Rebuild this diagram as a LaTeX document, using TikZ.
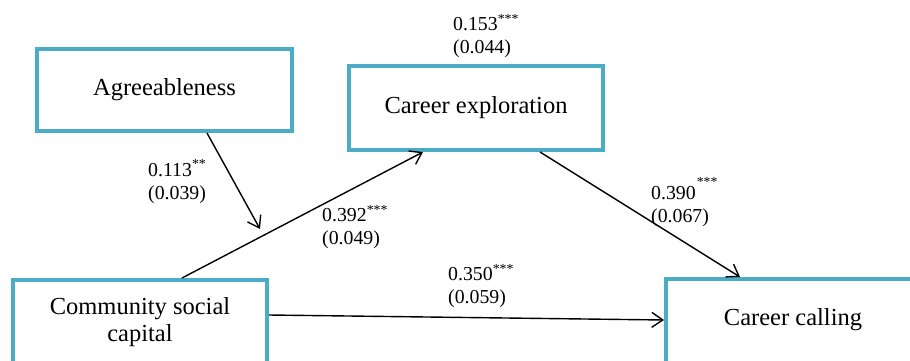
\documentclass[tikz,border=0pt]{standalone}
\usepackage{fontspec}
\setmainfont{Liberation Serif}
\usetikzlibrary{arrows.meta}
\definecolor{boxblue}{RGB}{75,172,198}
\begin{document}
\begin{tikzpicture}[x=1pt,y=-1pt,
  box/.style={draw=boxblue, line width=4pt, fill=white, inner sep=0pt, align=center,
              font=\fontsize{24.5}{27}\selectfont},
  lbl/.style={anchor=west, align=left, inner sep=0pt,
              font=\fontsize{19.8}{23}\selectfont},
  conn/.style={line width=1.4pt, -{Straight Barb[length=11pt,width=15pt,line width=1.4pt]}}]
\useasboundingbox (0,0) rectangle (910,361);
\clip (0,0) rectangle (910,361);
% boxes
\node[box, minimum width=255pt, minimum height=82pt] (agr) at (164.5,90) {Agreeableness};
\node[box, minimum width=254pt, minimum height=84pt] (exp) at (476,108) {Career exploration};
\node[box, minimum width=254pt, minimum height=84pt] (com) at (140,322) {Community social\\capital};
\node[box, minimum width=254pt, minimum height=84pt, text depth=8pt] (cal) at (793,321) {Career calling};
% moderation target
\coordinate (m) at (260,229);
% connectors
\draw[conn] ([xshift=42.5pt]agr.south) -- (m);
\draw[conn] ([xshift=42pt]com.north) -- ([xshift=-53pt]exp.south);
\draw[conn] ([xshift=64pt]exp.south) -- ([xshift=-53pt]cal.north);
\draw[conn] ([yshift=7pt]com.east) -- ([yshift=1pt]cal.west);
% labels
\node[lbl] (l153) at (453,36) {0.153\textsuperscript{***}\\(0.044)};
\node[lbl] (l113) at (148,181.5) {0.113\textsuperscript{**}\\(0.039)};
\node[lbl] (l392) at (322,227) {0.392\textsuperscript{***}\\(0.049)};
\node[lbl] (l390) at (651,202) {0.390\kern1pt\textsuperscript{\raisebox{5pt}{***}}\\(0.067)};
\node[lbl] (l350) at (448,286) {0.350\textsuperscript{***}\\(0.059)};
\end{tikzpicture}
\end{document}
